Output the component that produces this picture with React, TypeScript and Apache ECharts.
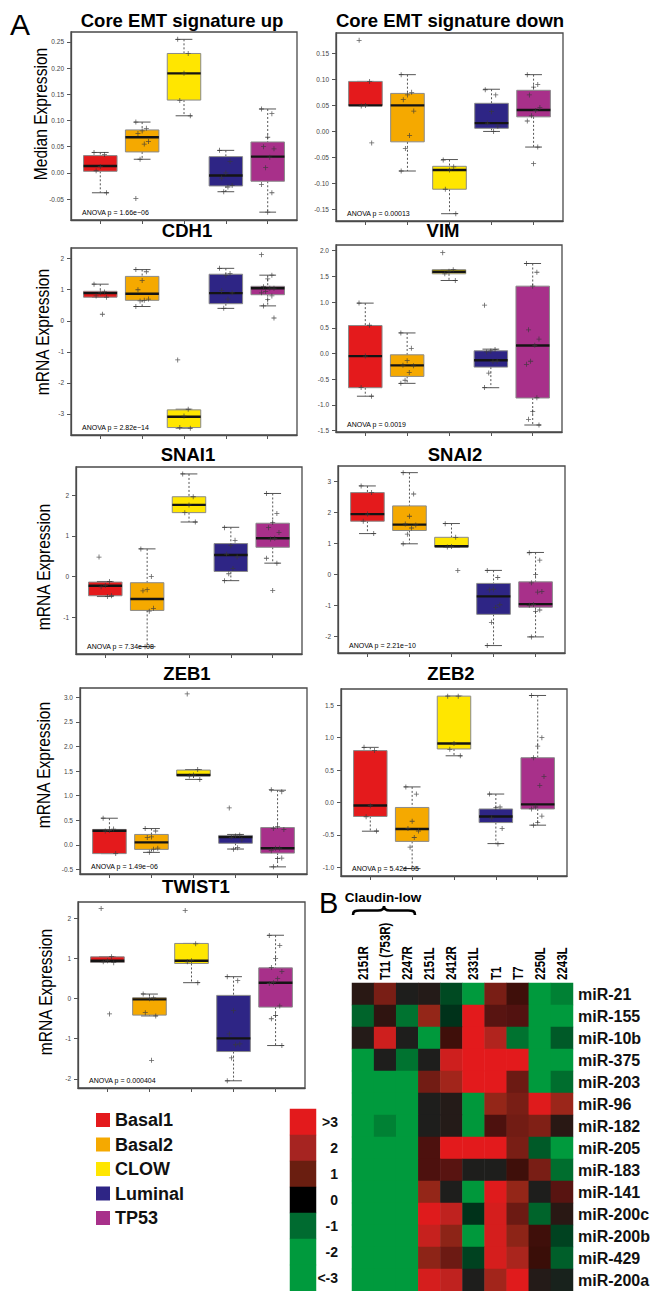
import React, { useEffect, useRef } from 'react';
import * as echarts from 'echarts';

const FONT = '"Liberation Sans", Arial, Helvetica, sans-serif';

const GROUPS = ['Basal1', 'Basal2', 'CLOW', 'Luminal', 'TP53'];
const GROUP_COLORS = ['#e41a1c', '#f5a900', '#ffe600', '#2e2585', '#a8308a'];

// each row: [lower whisker, Q1, median, Q3, upper whisker]
const CORE_UP_BOX = [
  [-0.038, 0.003, 0.013, 0.033, 0.039],
  [0.026, 0.04, 0.068, 0.082, 0.097],
  [0.109, 0.139, 0.19, 0.228, 0.255],
  [-0.036, -0.025, -0.005, 0.031, 0.043],
  [-0.075, -0.016, 0.031, 0.059, 0.122],
];
const CORE_UP_PTS = [
  [0.039, 0.035, 0.012, 0.004, -0.038],
  [0.097, 0.085, 0.08, 0.075, 0.06, 0.055, 0.026, -0.049],
  [0.255, 0.228, 0.19, 0.138, 0.109],
  [0.043, 0.022, 0.0, -0.01, -0.024, -0.027, -0.036],
  [0.122, 0.113, 0.068, 0.05, 0.046, 0.03, 0.01, -0.022, -0.038, -0.075],
];
const CORE_UP_TICKS = [-0.05, 0, 0.05, 0.1, 0.15, 0.2, 0.25];
const CORE_UP_TICK_LABELS = ['-0.05', '0.00', '0.05', '0.10', '0.15', '0.20', '0.25'];

const CORE_DOWN_BOX = [
  [0.05, 0.05, 0.05, 0.096, 0.096],
  [-0.076, -0.02, 0.05, 0.073, 0.109],
  [-0.158, -0.111, -0.074, -0.067, -0.054],
  [0.0, 0.006, 0.016, 0.054, 0.081],
  [-0.03, 0.028, 0.041, 0.079, 0.109],
];
const CORE_DOWN_PTS = [
  [0.175, 0.096, 0.05, 0.049, -0.022],
  [0.109, 0.075, 0.07, 0.061, 0.039, -0.008, -0.033, -0.076],
  [-0.055, -0.068, -0.074, -0.111, -0.158],
  [0.08, 0.07, 0.038, 0.016, 0.01, 0.0],
  [0.109, 0.09, 0.085, 0.07, 0.046, 0.04, 0.03, 0.02, -0.03, -0.062],
];
const CORE_DOWN_TICKS = [-0.15, -0.1, -0.05, 0, 0.05, 0.1, 0.15];
const CORE_DOWN_TICK_LABELS = ['-0.15', '-0.10', '-0.05', '0.00', '0.05', '0.10', '0.15'];

const CDH1_BOX = [
  [0.76, 0.76, 0.89, 0.95, 1.18],
  [0.46, 0.66, 0.87, 1.43, 1.65],
  [-3.46, -3.44, -3.09, -2.87, -2.85],
  [0.4, 0.55, 0.89, 1.5, 1.69],
  [0.48, 0.84, 1.05, 1.11, 1.47],
];
const CDH1_PTS = [
  [1.18, 0.93, 0.9, 0.8, 0.76, 0.21],
  [1.65, 1.58, 1.3, 1.0, 0.7, 0.66, 0.64, 0.46],
  [-1.26, -2.85, -3.07, -3.44, -3.46],
  [1.69, 1.52, 1.46, 0.97, 0.9, 0.7, 0.4],
  [2.13, 1.47, 1.35, 1.1, 1.05, 1.05, 0.95, 0.9, 0.8, 0.68, 0.48, 0.09],
];
const CDH1_TICKS = [-3, -2, -1, 0, 1, 2];
const CDH1_TICK_LABELS = ['-3', '-2', '-1', '0', '1', '2'];

const VIM_BOX = [
  [-0.83, -0.665, -0.05, 0.545, 0.98],
  [-0.58, -0.445, -0.23, -0.025, 0.4],
  [1.42, 1.55, 1.59, 1.63, 1.63],
  [-0.665, -0.264, -0.13, 0.053, 0.085],
  [-1.39, -0.865, 0.157, 1.31, 1.75],
];
const VIM_PTS = [
  [0.98, 0.55, -0.05, -0.66, -0.83],
  [0.4, 0.1, -0.14, -0.23, -0.24, -0.37, -0.52, -0.58],
  [1.96, 1.63, 1.6, 1.55, 1.42],
  [0.94, 0.08, 0.05, 0.03, -0.15, -0.16, -0.38, -0.66],
  [1.75, 1.58, 1.31, 0.46, 0.28, 0.16, -0.15, -0.21, -0.86, -1.13, -1.28, -1.39],
];
const VIM_TICKS = [-1.5, -1, -0.5, 0, 0.5, 1, 1.5, 2];
const VIM_TICK_LABELS = ['-1.5', '-1.0', '-0.5', '0.0', '0.5', '1.0', '1.5', '2.0'];

const SNAI1_BOX = [
  [-0.49, -0.47, -0.225, -0.135, -0.12],
  [-1.72, -0.83, -0.55, -0.15, 0.68],
  [1.34, 1.57, 1.76, 1.96, 2.52],
  [-0.1, 0.126, 0.53, 0.81, 1.21],
  [0.33, 0.72, 0.94, 1.31, 2.04],
];
const SNAI1_PTS = [
  [0.48, -0.12, -0.22, -0.25, -0.47, -0.49],
  [0.68, 0.0, -0.32, -0.35, -0.78, -0.85, -1.72],
  [2.52, 1.96, 1.76, 1.57, 1.34],
  [1.2, 0.89, 0.76, 0.55, 0.48, 0.2, 0.07, -0.1],
  [2.04, 1.55, 1.33, 1.2, 1.08, 0.94, 0.92, 0.45, 0.33, -0.34],
];
const SNAI1_TICKS = [-1, 0, 1, 2];
const SNAI1_TICK_LABELS = ['-1', '0', '1', '2'];

const SNAI2_BOX = [
  [1.32, 1.72, 1.95, 2.645, 2.86],
  [0.99, 1.42, 1.61, 2.215, 3.29],
  [0.89, 0.89, 0.91, 1.2, 1.645],
  [-2.3, -1.29, -0.71, -0.29, 0.13],
  [-2.02, -1.06, -0.96, -0.24, 0.71],
];
const SNAI2_PTS = [
  [2.86, 2.65, 1.95, 1.72, 1.32],
  [3.29, 2.6, 1.88, 1.63, 1.6, 1.5, 1.3, 0.99],
  [1.64, 1.2, 0.9, 0.89, 0.13],
  [0.13, -0.1, -0.48, -0.5, -0.98, -1.07, -1.55, -2.3],
  [0.7, 0.46, 0.0, -0.27, -0.55, -0.57, -0.97, -1.0, -1.15, -1.2, -2.02],
];
const SNAI2_TICKS = [-2, -1, 0, 1, 2, 3];
const SNAI2_TICK_LABELS = ['-2', '-1', '0', '1', '2', '3'];

const ZEB1_BOX = [
  [-0.18, -0.18, 0.285, 0.312, 0.54],
  [-0.155, -0.094, 0.048, 0.21, 0.33],
  [1.33, 1.4, 1.42, 1.52, 1.53],
  [-0.087, 0.03, 0.156, 0.19, 0.21],
  [-0.45, -0.17, -0.07, 0.35, 1.11],
];
const ZEB1_PTS = [
  [0.54, 0.32, 0.29, 0.28, -0.18],
  [0.33, 0.28, 0.16, 0.15, -0.07, -0.09, -0.15],
  [3.07, 1.53, 1.42, 1.4, 1.33],
  [0.75, 0.2, 0.18, 0.15, 0.1, -0.06, -0.09],
  [1.12, 1.08, 0.37, 0.33, 0.31, -0.07, -0.07, -0.12, -0.27, -0.28, -0.45],
];
const ZEB1_TICKS = [-0.5, 0, 0.5, 1, 1.5, 2, 2.5, 3];
const ZEB1_TICK_LABELS = ['-0.5', '0.0', '0.5', '1.0', '1.5', '2.0', '2.5', '3.0'];

const ZEB2_BOX = [
  [-0.443, -0.216, -0.046, 0.8, 0.85],
  [-1.02, -0.6, -0.41, -0.077, 0.24],
  [0.72, 0.825, 0.91, 1.64, 1.64],
  [-0.634, -0.31, -0.216, -0.1, 0.13],
  [-0.35, -0.1, -0.03, 0.69, 1.65],
];
const ZEB2_PTS = [
  [0.85, 0.8, -0.05, -0.22, -0.44],
  [0.24, 0.13, -0.29, -0.4, -0.44, -0.54, -0.69, -1.02],
  [1.64, 1.64, 0.91, 0.82, 0.72],
  [0.13, -0.07, -0.08, -0.24, -0.4, -0.64],
  [1.65, 1.0, 0.87, 0.69, 0.4, 0.26, -0.07, -0.1, -0.21, -0.31, -0.35],
];
const ZEB2_TICKS = [-1, -0.5, 0, 0.5, 1, 1.5];
const ZEB2_TICK_LABELS = ['-1.0', '-0.5', '0.0', '0.5', '1.0', '1.5'];

const TWIST1_BOX = [
  [0.905, 0.905, 0.946, 1.045, 1.045],
  [-0.43, -0.41, -0.017, 0.025, 0.116],
  [0.4, 0.88, 0.946, 1.38, 1.38],
  [-2.05, -1.32, -0.99, 0.083, 0.55],
  [-1.17, -0.21, 0.4, 0.77, 1.585],
];
const TWIST1_PTS = [
  [2.25, 1.05, 0.95, 0.92, 0.9, -0.38],
  [0.12, 0.02, 0.0, -0.35, -0.43, -1.54],
  [2.2, 1.37, 0.95, 0.92, 0.4],
  [0.55, 0.45, -0.3, -0.88, -1.13, -1.15, -1.48, -2.05],
  [1.58, 1.33, 1.0, 0.78, 0.68, 0.5, 0.4, 0.38, -0.18, -0.42, -0.5, -1.17],
];
const TWIST1_TICKS = [-2, -1, 0, 1, 2];
const TWIST1_TICK_LABELS = ['-2', '-1', '0', '1', '2'];

const PANEL_TITLES = ['Core EMT signature up', 'Core EMT signature down', 'CDH1', 'VIM', 'SNAI1', 'SNAI2', 'ZEB1', 'ZEB2', 'TWIST1'];
const ANOVA_LABELS = [
  'ANOVA p = 1.66e\u221206', 'ANOVA p = 0.00013', 'ANOVA p = 2.82e\u221214', 'ANOVA p = 0.0019',
  'ANOVA p = 7.34e\u221208', 'ANOVA p = 2.21e\u221210', 'ANOVA p = 1.49e\u221206', 'ANOVA p = 5.42e\u221205',
  'ANOVA p = 0.000404',
];
const Y_NAMES = ['Median Expression', 'mRNA Expression', 'mRNA Expression', 'mRNA Expression', 'mRNA Expression'];

// Heatmap (panel B)
const HM_COLS = ['2151R', 'T11 (753R)', '2247R', '2151L', '2412R', '2331L', 'T1', 'T7', '2250L', '2243L'];
const HM_ROWS = ['miR-21', 'miR-155', 'miR-10b', 'miR-375', 'miR-203', 'miR-96', 'miR-182', 'miR-205', 'miR-183', 'miR-141', 'miR-200c', 'miR-200b', 'miR-429', 'miR-200a'];
const HM_VALUES = [
  [0.2, 1.6, 0.0, 0.1, -0.8, -3.5, 1.6, 0.6, -3.5, -1.8],
  [-1.2, 0.3, -1.5, 2.0, -0.5, 3.5, 1.1, 1.0, -3.5, -3.5],
  [0.1, 2.8, 0.0, -2.8, 0.6, 3.5, 2.4, -1.5, -3.5, -1.0],
  [-3.5, 0.0, -1.5, 0.0, 2.8, 3.5, 3.5, 3.5, -3.5, -3.5],
  [-3.5, -3.5, -3.0, 1.5, 2.2, 3.5, 3.5, 1.4, -3.5, -1.4],
  [-3.5, -3.5, -3.0, 0.0, 0.1, -2.6, 2.0, 1.6, 3.2, 2.1],
  [-3.5, -1.8, -3.5, 0.0, 0.1, -2.6, 0.9, 1.5, 1.7, 0.2],
  [-3.5, -3.5, -3.5, 0.9, 3.5, 3.5, 3.5, 1.6, -1.0, -3.5],
  [-3.5, -3.5, -3.5, 0.9, 1.1, 0.0, 0.0, 0.6, 1.6, -1.4],
  [-3.5, -3.5, -3.5, 2.0, 0.0, -2.6, 3.2, 2.0, 0.0, 1.1],
  [-3.5, -3.5, -3.5, 3.2, 2.6, -0.5, 2.9, 1.4, -1.2, 0.2],
  [-3.5, -3.5, -3.5, 2.7, 1.9, -2.8, 2.9, 1.9, 0.6, -0.7],
  [-3.5, -3.5, -3.5, 1.9, 1.4, -0.7, 2.9, 2.3, 0.5, -1.1],
  [-3.5, -3.5, -3.5, 2.9, 2.6, 0.0, 2.2, 3.3, 0.1, -0.1],
];
const HEAT_COLORS = ['#009a3d', '#009a3d', '#00973b', '#008a36', '#007330', '#005a28', '#00321a', '#1e1e1c',
  '#3a0e08', '#521210', '#721c14', '#942618', '#b82420', '#dc1c1c', '#e31a1c'];
const SCALE_LEVELS = [3, 2, 1, 0, -1, -2, -3];
const SCALE_LABELS = ['>3', '2', '1', '0', '-1', '-2', '<-3'];
const SCALE_COLORS = ['#e31a1c', '#a62421', '#6a1e10', '#000000', '#006b30', '#009a3d', '#009a3d'];

// layout (pixels) of the nine box-plot panels
const PANEL_LAYOUT = [
  { left: 71, top: 32, width: 226, height: 188, yMin: -0.09, yMax: 0.269, tx: 182, ty: 20 },
  { left: 336, top: 33, width: 227, height: 188, yMin: -0.172, yMax: 0.189, tx: 450, ty: 20 },
  { left: 71, top: 248, width: 226, height: 187, yMin: -3.68, yMax: 2.345, tx: 187, ty: 230 },
  { left: 336, top: 245, width: 226, height: 187, yMin: -1.526, yMax: 2.11, tx: 443, ty: 230 },
  { left: 76, top: 467, width: 226, height: 187, yMin: -1.9, yMax: 2.69, tx: 188, ty: 454 },
  { left: 338, top: 466, width: 227, height: 187, yMin: -2.54, yMax: 3.505, tx: 455, ty: 454 },
  { left: 80, top: 688, width: 227, height: 186, yMin: -0.595, yMax: 3.19, tx: 187, ty: 673 },
  { left: 341, top: 689, width: 226, height: 187, yMin: -1.134, yMax: 1.75, tx: 451, ty: 673 },
  { left: 78, top: 902, width: 227, height: 186, yMin: -2.23, yMax: 2.415, tx: 196, ty: 886 },
];
const Y_NAME_POS = [
  { x: 40, y: 114 }, { x: 42, y: 332 }, { x: 43, y: 567 }, { x: 43, y: 765 }, { x: 45, y: 992 },
];
const HM_LAYOUT = { left: 352, top: 983, width: 221, height: 308 };
const SCALE_LAYOUT = { left: 290, top: 1109, width: 26, height: 182 };

const X_POSITIONS = [1, 2, 3, 4, 5];
const BOX_WIDTH = 0.8;
const PLUS = 'path://M4.2,0H5.8V4.2H10V5.8H5.8V10H4.2V5.8H0V4.2H4.2Z';

echarts.graphic.registerShape(
  'brace',
  echarts.graphic.extendPath('M0,9 C0,5 2,4.5 7,4.5 L25,4.5 C29,4.5 31,3 31,0 C31,3 33,4.5 37,4.5 L55,4.5 C60,4.5 62,5 62,9', {})
);

const PANELS = [
  { box: CORE_UP_BOX, pts: CORE_UP_PTS, ticks: CORE_UP_TICKS, labels: CORE_UP_TICK_LABELS },
  { box: CORE_DOWN_BOX, pts: CORE_DOWN_PTS, ticks: CORE_DOWN_TICKS, labels: CORE_DOWN_TICK_LABELS },
  { box: CDH1_BOX, pts: CDH1_PTS, ticks: CDH1_TICKS, labels: CDH1_TICK_LABELS },
  { box: VIM_BOX, pts: VIM_PTS, ticks: VIM_TICKS, labels: VIM_TICK_LABELS },
  { box: SNAI1_BOX, pts: SNAI1_PTS, ticks: SNAI1_TICKS, labels: SNAI1_TICK_LABELS },
  { box: SNAI2_BOX, pts: SNAI2_PTS, ticks: SNAI2_TICKS, labels: SNAI2_TICK_LABELS },
  { box: ZEB1_BOX, pts: ZEB1_PTS, ticks: ZEB1_TICKS, labels: ZEB1_TICK_LABELS },
  { box: ZEB2_BOX, pts: ZEB2_PTS, ticks: ZEB2_TICKS, labels: ZEB2_TICK_LABELS },
  { box: TWIST1_BOX, pts: TWIST1_PTS, ticks: TWIST1_TICKS, labels: TWIST1_TICK_LABELS },
];

function renderBox(params: any, api: any) {
  const x = api.value(0);
  const lo = api.coord([x, api.value(1)]);
  const q1 = api.coord([x, api.value(2)]);
  const med = api.coord([x, api.value(3)]);
  const q3 = api.coord([x, api.value(4)]);
  const hi = api.coord([x, api.value(5)]);
  const bw = api.size([BOX_WIDTH, 0])[0];
  const cap = bw * 0.5;
  const cx = lo[0];
  const whisk = { stroke: '#555', lineWidth: 1, lineDash: [2, 2] };
  const solid = { stroke: '#555', lineWidth: 1 };
  return {
    type: 'group',
    children: [
      { type: 'line', shape: { x1: cx, y1: hi[1], x2: cx, y2: q3[1] }, style: whisk },
      { type: 'line', shape: { x1: cx, y1: q1[1], x2: cx, y2: lo[1] }, style: whisk },
      { type: 'line', shape: { x1: cx - cap / 2, y1: hi[1], x2: cx + cap / 2, y2: hi[1] }, style: solid },
      { type: 'line', shape: { x1: cx - cap / 2, y1: lo[1], x2: cx + cap / 2, y2: lo[1] }, style: solid },
      {
        type: 'rect',
        shape: { x: cx - bw / 2, y: q3[1], width: bw, height: Math.max(q1[1] - q3[1], 1) },
        style: { fill: api.visual('color'), stroke: '#8a8a8a', lineWidth: 1 },
      },
      { type: 'line', shape: { x1: cx - bw / 2, y1: med[1], x2: cx + bw / 2, y2: med[1] }, style: { stroke: '#141414', lineWidth: 2.4 } },
    ],
  };
}

function textEl(x: number, y: number, text: string, font: string, align: string, extra: any = {}) {
  return {
    type: 'text', x, y, z: 50, ...extra,
    style: {
      text, font, fill: '#000',
      align, verticalAlign: 'middle', textAlign: align, textVerticalAlign: 'middle',
    },
  };
}

function buildOption() {
  const grid: any[] = [];
  const xAxis: any[] = [];
  const yAxis: any[] = [];
  const series: any[] = [];
  const graphic: any[] = [];

  PANELS.forEach((p, i) => {
    const L = PANEL_LAYOUT[i];
    grid.push({
      left: L.left, top: L.top, width: L.width, height: L.height,
      show: true, borderColor: '#4a4a4a', borderWidth: 1.3, backgroundColor: 'rgba(0,0,0,0)',
    });
    xAxis.push({
      type: 'value', gridIndex: i, min: 0.3, max: 5.7,
      axisLine: { show: true, onZero: false, lineStyle: { color: '#4a4a4a', width: 1.3 } },
      splitLine: { show: false },
      axisTick: { show: true, length: 4, customValues: X_POSITIONS, lineStyle: { color: '#555' } },
      axisLabel: { show: false, customValues: X_POSITIONS },
    });
    const ticks = p.ticks;
    const labels = p.labels;
    yAxis.push({
      type: 'value', gridIndex: i, min: L.yMin, max: L.yMax,
      axisLine: { show: true, onZero: false, lineStyle: { color: '#4a4a4a', width: 1.3 } },
      splitLine: { show: false },
      axisTick: { show: true, length: 4, customValues: ticks, lineStyle: { color: '#555' } },
      axisLabel: {
        customValues: ticks, fontSize: 6.5, color: '#444', margin: 7, fontFamily: FONT,
        formatter: (v: number) => {
          const k = ticks.findIndex((t) => Math.abs(t - v) < 1e-9);
          return k >= 0 ? labels[k] : '';
        },
      },
    });
    GROUPS.forEach((g, gi) => {
      series.push({
        type: 'custom', name: g, xAxisIndex: i, yAxisIndex: i, silent: true,
        itemStyle: { color: GROUP_COLORS[gi] },
        dimensions: ['x', 'lo', 'q1', 'med', 'q3', 'hi'],
        encode: { x: 0, y: [1, 2, 3, 4, 5] },
        data: [[X_POSITIONS[gi], ...p.box[gi]]],
        renderItem: renderBox, z: 2,
      });
    });
    const pts: number[][] = [];
    p.pts.forEach((arr, gi) => {
      arr.forEach((v, k) => {
        const jitter = (((k * 5) % 7) - 3) * 0.05;
        pts.push([X_POSITIONS[gi] + jitter, v]);
      });
    });
    series.push({
      type: 'scatter', xAxisIndex: i, yAxisIndex: i, silent: true, z: 5,
      symbol: PLUS, symbolSize: 5, itemStyle: { color: '#3a3a3a' }, data: pts,
    });

    graphic.push(textEl(L.tx, L.ty, PANEL_TITLES[i], `bold 18.5px ${FONT}`, 'center'));
    graphic.push(textEl(L.left + 11, L.top + L.height - 8, ANOVA_LABELS[i], `7px ${FONT}`, 'left'));
  });

  Y_NAME_POS.forEach((pos, k) => {
    graphic.push(textEl(pos.x, pos.y, Y_NAMES[k], `19px ${FONT}`, 'center', { rotation: Math.PI / 2, scaleX: 0.82 }));
  });

  // Heatmap
  const hmGrid = grid.length;
  grid.push({ ...HM_LAYOUT });
  xAxis.push({
    type: 'category', gridIndex: hmGrid, data: HM_COLS, position: 'top',
    axisLine: { show: false }, axisTick: { show: false }, splitLine: { show: false },
    axisLabel: { show: false },
  });
  yAxis.push({
    type: 'category', gridIndex: hmGrid, data: HM_ROWS, inverse: true, position: 'right',
    axisLine: { show: false }, axisTick: { show: false }, splitLine: { show: false },
    axisLabel: { interval: 0, fontSize: 16, fontWeight: 'bold', fontFamily: FONT, color: '#111', margin: 5 },
  });
  const hmData: number[][] = [];
  HM_VALUES.forEach((row, r) => row.forEach((v, c) => hmData.push([c, r, v])));
  const hmSeries = series.length;
  series.push({
    type: 'heatmap', xAxisIndex: hmGrid, yAxisIndex: hmGrid, data: hmData, silent: true,
    itemStyle: { borderWidth: 0 }, emphasis: { disabled: true },
  });

  // colour scale
  const scGrid = grid.length;
  grid.push({ ...SCALE_LAYOUT });
  xAxis.push({ type: 'category', gridIndex: scGrid, data: [''], show: false });
  yAxis.push({
    type: 'category', gridIndex: scGrid, data: SCALE_LABELS, inverse: true, position: 'right',
    axisLine: { show: false }, axisTick: { show: false }, splitLine: { show: false },
    axisLabel: { interval: 0, align: 'right', margin: 22, fontSize: 14, fontWeight: 'bold', fontFamily: FONT, color: '#111' },
  });
  const scSeries = series.length;
  series.push({
    type: 'heatmap', xAxisIndex: scGrid, yAxisIndex: scGrid, silent: true,
    data: SCALE_LEVELS.map((v, k) => [0, k, v]),
    itemStyle: { borderWidth: 0 }, emphasis: { disabled: true },
  });

  graphic.push(
    textEl(10, 24, 'A', `30px ${FONT}`, 'left'),
    textEl(319, 903, 'B', `29px ${FONT}`, 'left'),
    textEl(383, 897, 'Claudin-low', `bold 13.5px ${FONT}`, 'center'),
    { type: 'brace', x: 353, y: 906, z: 50, style: { fill: 'none', stroke: '#000', lineWidth: 2.6 } },
  );

  return {
    hmGrid,
    option: {
      animation: false,
      backgroundColor: '#ffffff',
      textStyle: { fontFamily: FONT },
      grid, xAxis, yAxis, series, graphic,
      legend: {
        data: GROUPS, orient: 'vertical', left: 91, top: 1106, itemWidth: 14, itemHeight: 14, itemGap: 6.5,
        icon: 'rect', selectedMode: false,
        textStyle: { fontSize: 18, fontWeight: 'bold', fontFamily: FONT, color: '#111' },
      },
      visualMap: [
        { type: 'continuous', show: false, seriesIndex: hmSeries, min: -3.5, max: 3.5, dimension: 2, inRange: { color: HEAT_COLORS } },
        {
          type: 'piecewise', show: false, seriesIndex: scSeries, dimension: 2,
          pieces: SCALE_LEVELS.map((v, k) => ({ value: v, color: SCALE_COLORS[k] })),
        },
      ],
    },
  };
}

export default function App() {
  const ref = useRef<HTMLDivElement>(null);
  useEffect(() => {
    if (!ref.current) return;
    const chart = echarts.init(ref.current, null, { renderer: 'svg' });
    const { option, hmGrid } = buildOption();
    chart.setOption(option as any);
    // column labels of the heatmap, placed through the category axis scale (condensed, rotated)
    const colLabels = HM_COLS.map((name, c) => {
      const x = chart.convertToPixel({ xAxisIndex: hmGrid } as any, c) as unknown as number;
      return textEl(x, HM_LAYOUT.top - 3, name, `bold 14px ${FONT}`, 'left', { rotation: Math.PI / 2, scaleX: 0.82 });
    });
    chart.setOption({ graphic: [...(option.graphic as any[]), ...colLabels] } as any);
    return () => chart.dispose();
  }, []);
  return (
    <div
      ref={ref}
      style={{ position: 'absolute', left: 0, top: 0, width: 663, height: 1291, background: '#fff' }}
    />
  );
}
